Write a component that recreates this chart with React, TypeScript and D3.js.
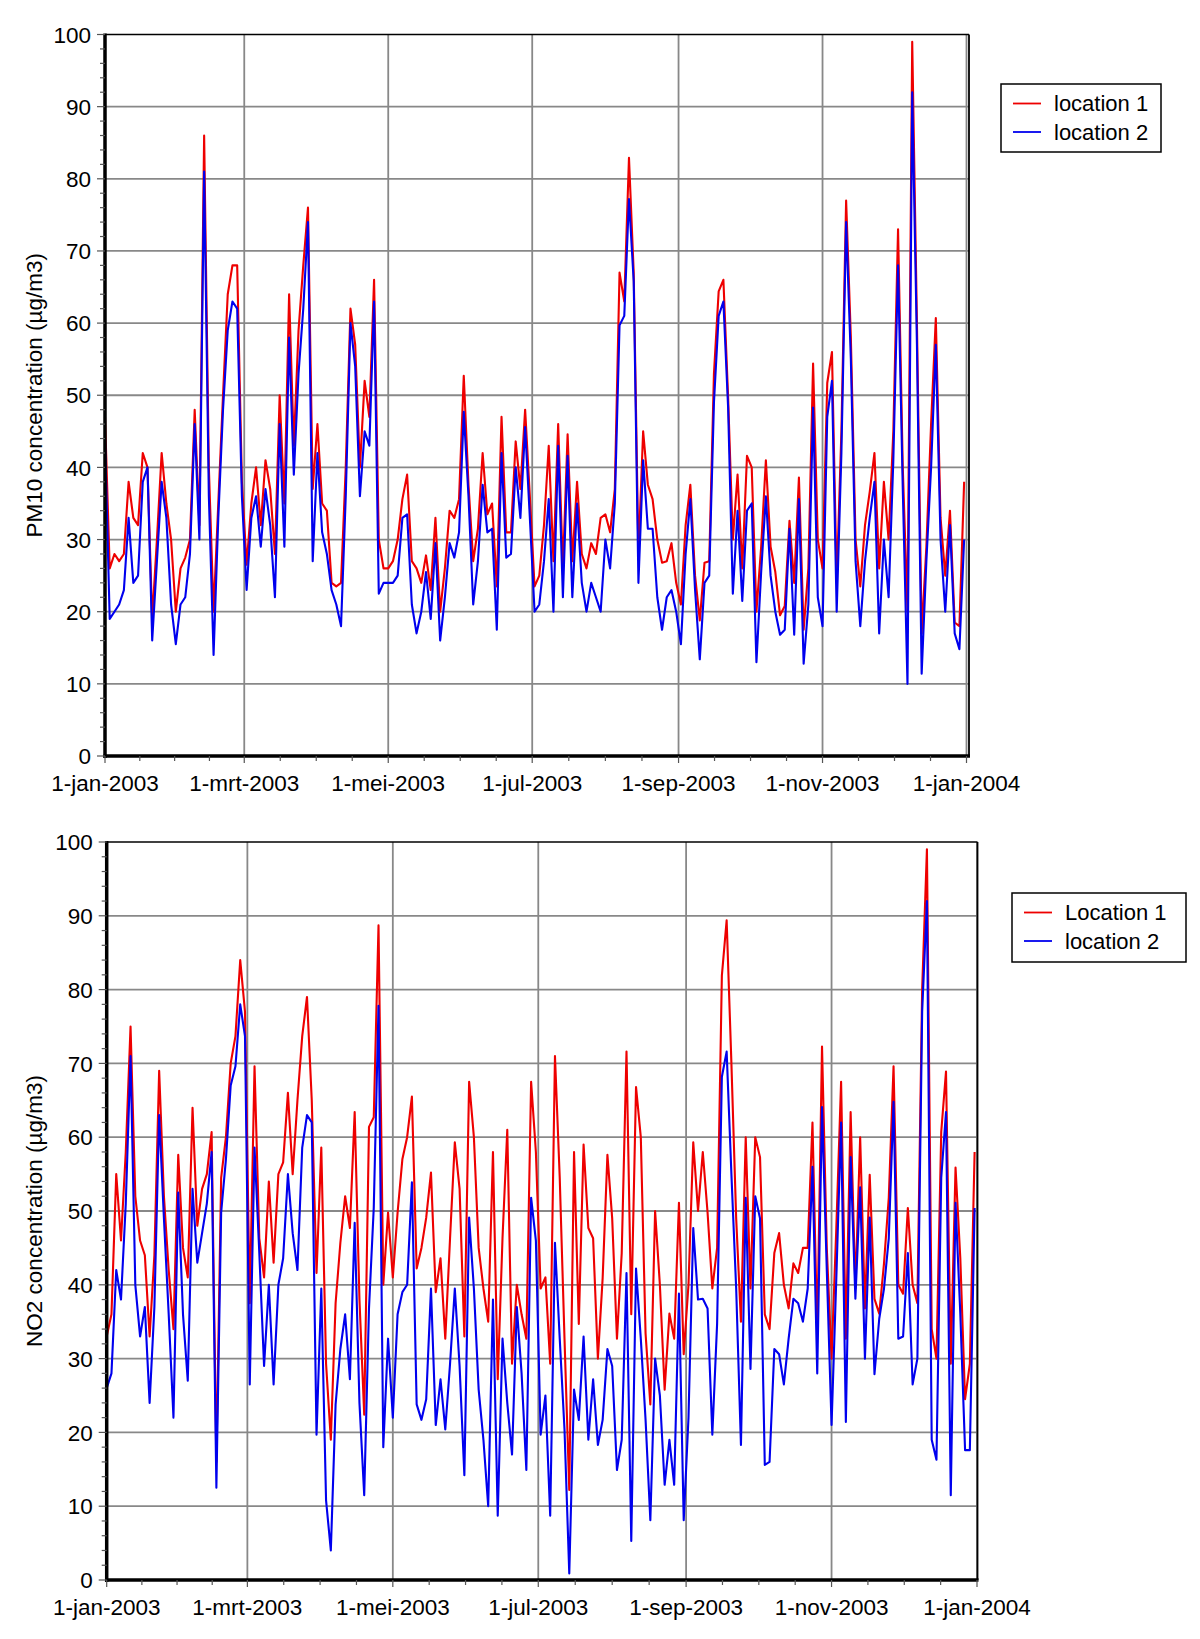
import React from 'react';
import * as d3 from 'd3';

// ---------- data (values every 2 days, starting 1-jan-2003) ----------
const START_YEAR = 2003;
const STEP_DAYS = 2;

const majorTickMonths = [0, 2, 4, 6, 8, 10, 12];
const majorTickLabels = ['1-jan-2003', '1-mrt-2003', '1-mei-2003', '1-jul-2003', '1-sep-2003', '1-nov-2003', '1-jan-2004'];
const yTickValues = [0, 10, 20, 30, 40, 50, 60, 70, 80, 90, 100];
const yMinorStep = 2;

const pm10Title = 'PM10 concentration (µg/m3)';
const no2Title = 'NO2 concentration (µg/m3)';
const pm10Legend = ['location 1', 'location 2'];
const no2Legend = ['Location 1', 'location 2'];

const pm10Loc1 = [
  47, 26, 28, 27, 28, 38, 33, 32, 42, 40,
  19, 30, 42, 35, 30, 20, 26, 27.5, 30, 48,
  32, 86, 40, 20, 35, 50, 64, 68, 68, 38,
  26.5, 35, 40, 32, 41, 37, 28, 50, 35, 64,
  43, 59, 68, 76, 37, 46, 35, 34, 24, 23.5,
  24, 40, 62, 57, 40, 52, 47, 66, 30, 26,
  26, 27, 30, 35.6, 39, 27, 26, 24, 27.8, 23,
  33, 20, 26, 34, 33, 35.6, 52.7, 37.6, 27, 31.5,
  42, 33.5, 35, 23.5, 47, 31, 31, 43.6, 37, 48,
  36, 23.5, 25, 32, 43, 27, 46, 26, 44.6, 27,
  38, 28, 26, 29.5, 28, 33, 33.5, 31, 37, 67,
  63, 82.9, 67, 28, 45, 37.6, 35.6, 30, 26.8, 27,
  29.5, 24, 21, 32, 37.6, 25, 18.8, 26.8, 27, 53,
  64.4, 66, 49.7, 30, 39, 26, 41.6, 40, 20, 29,
  41, 29, 25.5, 19.5, 20.8, 32.6, 24, 38.6, 17.5, 26,
  54.4, 30, 26, 51.7, 56, 24, 45, 77, 58, 30,
  23.5, 32, 36.6, 42, 26, 38, 30, 45, 73, 40,
  20, 99, 60, 17, 29, 46, 60.7, 33, 25, 34,
  18.5, 18, 38,
];

const pm10Loc2 = [
  44, 19, 20, 21, 23, 33, 24, 25, 38, 40,
  16, 27, 38, 33, 21, 15.5, 21, 22, 28, 46,
  30, 81, 36, 14, 33, 48, 59, 63, 62, 36,
  23, 33, 36, 29, 37, 32, 22, 46, 29, 58,
  39, 53, 62, 74, 27, 42, 31, 28, 23, 21,
  18, 36, 60, 54, 36, 45, 43, 63, 22.5, 24,
  24, 24, 25, 33, 33.5, 21, 17, 20, 25.5, 19,
  29.5, 16, 22, 29.5, 27.5, 31, 47.7, 36, 21, 27,
  37.6, 31, 31.5, 17.5, 42, 27.5, 28, 40, 33, 45.6,
  33, 20, 21, 27, 35.6, 20, 43, 22, 41.6, 22,
  35, 24, 20, 24, 22, 20, 30, 26, 35, 59.7,
  61, 77.2, 65.8, 24, 41, 31.5, 31.5, 22, 17.5, 22,
  23, 20, 15.5, 28, 35.6, 23, 13.4, 24, 25, 49,
  61, 63, 48.3, 22.5, 34, 21.5, 34, 35, 13, 25.5,
  36, 25, 20, 16.8, 17.5, 31.5, 16.8, 35.6, 12.8, 21,
  48.3, 22, 18, 47, 52, 20, 42, 74, 55, 27,
  18, 27, 33, 38, 17, 30, 22, 41, 68, 37,
  10, 92, 57, 11.4, 27, 40, 57, 30, 20, 32,
  17, 14.8, 30,
];

const no2Loc1 = [
  33, 36, 55, 46, 58, 75, 52, 46, 44, 33,
  44, 69, 52, 42, 34, 57.6, 45, 41, 64, 48,
  53, 55, 60.7, 16, 54.5, 60, 70, 73.7, 84, 77,
  37.5, 69.6, 46.3, 41, 54, 43, 55, 56.6, 66, 55,
  65, 73.7, 79, 65, 41.6, 58.6, 29.3, 19, 37.5, 45.7,
  52, 47.7, 63.4, 38, 22.4, 61.4, 62.7, 88.7, 40, 49.8,
  41, 49.8, 57, 60, 65.5, 42.2, 45, 49.1, 55.2, 39,
  43.6, 32.7, 46.3, 59.3, 53, 33, 67.5, 60, 45, 39.5,
  35, 58, 27.2, 46.3, 61, 29.3, 40, 36, 32.7, 67.5,
  58, 39.5, 41, 29.3, 71, 54.5, 32.7, 12.2, 58, 34.7,
  59, 47.7, 46.3, 30, 40.9, 57.6, 49, 32.7, 44.3, 71.6,
  36, 66.8, 60, 33.4, 23.8, 50, 40, 25.8, 36.1, 32.7,
  51.1, 30.6, 40, 59.3, 50, 58, 49.8, 39.5, 45, 81.9,
  89.4, 70, 49, 35, 60, 39.5, 60, 57.3, 36, 34,
  44.3, 47, 40, 36.8, 42.9, 41.6, 45, 45, 62, 33.4,
  72.3, 45, 30, 47.7, 67.5, 32.7, 63.4, 39.5, 60, 36.8,
  54.9, 38.1, 36.1, 42.9, 51.8, 69.6, 40, 38.8, 50.4, 40,
  37.5, 80, 99, 34, 30, 60.7, 68.9, 29.3, 55.9, 43.6,
  24.5, 29.3, 58,
];

const no2Loc2 = [
  26, 28, 42, 38, 51, 71, 40, 33, 37, 24,
  37, 63, 49, 36, 22, 52.5, 36, 27, 53, 43,
  47, 51, 58, 12.5, 49.8, 57, 67, 69.6, 78, 73.7,
  26.5, 58.6, 44.3, 29, 40, 26.5, 40, 43.6, 55, 47,
  42, 58.6, 63, 62, 19.7, 39.5, 10.8, 4, 23.8, 31.3,
  36, 27.2, 48.4, 24, 11.5, 36.8, 50.4, 77.8, 18, 32.7,
  22, 36, 39, 40, 53.9, 23.8, 21.7, 24.5, 39.5, 21,
  27.2, 20.4, 29.3, 39.5, 29, 14.2, 49.1, 39.5, 25.8, 19,
  10, 38, 8.7, 32.7, 24, 17, 37, 28, 14.9, 51.8,
  46, 19.7, 25, 8.7, 45.7, 32.7, 20.4, 0.9, 25.8, 21.7,
  33, 19, 27.2, 18.3, 21.7, 31.3, 29, 14.9, 19, 41.6,
  5.3, 42.2, 32.7, 21.7, 8.1, 30, 25, 12.9, 19, 12.9,
  38.8, 8.1, 22, 47.7, 38, 38.1, 36.8, 19.7, 34.7, 68.2,
  71.6, 55, 39.5, 18.3, 51.8, 28.6, 52, 49, 15.6, 16,
  31.3, 30.6, 26.5, 32.7, 38.1, 37.5, 35, 39.5, 56, 28,
  64.1, 42, 21, 40.9, 62, 21.4, 57.3, 38.1, 53.2, 30,
  49.1, 27.9, 35.4, 39.5, 46.3, 64.8, 32.7, 33, 44.3, 26.5,
  30, 77, 92, 19, 16.3, 54.5, 63.4, 11.5, 51.1, 36.1,
  17.6, 17.6, 50.4,
];

// ---------- drawing ----------
const FONT = '"Liberation Sans", Arial, sans-serif';
const FS = 22.5;
const RED = '#ee0000';
const BLUE = '#0000ee';
const GRID = '#888888';

type PanelProps = {
  left: number; xEnd: number; borderRight: number; top: number; bottom: number;
  loc1: number[]; loc2: number[]; title: string; legend: string[];
  legendX: number; legendY: number; legendW: number; legendH: number;
};

function Panel(p: PanelProps) {
  const x = d3.scaleTime()
    .domain([new Date(START_YEAR, 0, 1), new Date(START_YEAR + 1, 0, 1)])
    .range([p.left, p.xEnd]);
  const y = d3.scaleLinear().domain([0, 100]).range([p.bottom, p.top]);
  const dateOf = (i: number) => new Date(START_YEAR, 0, 1 + i * STEP_DAYS);
  const line = d3.line<number>()
    .x((_, i) => x(dateOf(i)))
    .y((v) => y(v));

  const majorX = majorTickMonths.map((m) => x(new Date(START_YEAR, m, 1)));
  const minorX: number[] = [];
  for (let k = 0; k < majorX.length - 1; k++) {
    for (let j = 1; j < 4; j++) minorX.push(majorX[k] + (majorX[k + 1] - majorX[k]) * j / 4);
  }
  const yMinor = d3.range(0, 100 + 0.001, yMinorStep);

  const lx = p.legendX, ly = p.legendY;
  return (
    <g>
      {/* grid */}
      {yTickValues.filter((v) => v > 0 && v < 100).map((v) => (
        <line key={'gy' + v} x1={p.left} x2={p.borderRight} y1={y(v)} y2={y(v)} stroke={GRID} strokeWidth={1.8} />
      ))}
      {majorX.slice(1).map((mx, i) => (
        <line key={'gx' + i} x1={mx} x2={mx} y1={p.top} y2={p.bottom} stroke={GRID} strokeWidth={1.8} />
      ))}
      {/* data */}
      <path d={line(p.loc1) || ''} fill="none" stroke={RED} strokeWidth={2.1} strokeLinejoin="round" />
      <path d={line(p.loc2) || ''} fill="none" stroke={BLUE} strokeWidth={2.1} strokeLinejoin="round" />
      {/* frame */}
      <line x1={p.left} x2={p.borderRight} y1={p.top} y2={p.top} stroke="#000" strokeWidth={1.5} />
      <line x1={p.borderRight} x2={p.borderRight} y1={p.top} y2={p.bottom} stroke="#000" strokeWidth={1.8} />
      <line x1={p.left} x2={p.left} y1={p.top - 1} y2={p.bottom + 2} stroke="#000" strokeWidth={3.5} />
      <line x1={p.left - 1.5} x2={p.borderRight + 1} y1={p.bottom} y2={p.bottom} stroke="#000" strokeWidth={3.5} />
      {/* y ticks */}
      {yMinor.map((v) => {
        const major = v % 10 === 0;
        return <line key={'yt' + v} x1={p.left - (major ? 8 : 5)} x2={p.left} y1={y(v)} y2={y(v)} stroke="#555" strokeWidth={1.2} />;
      })}
      {yTickValues.map((v) => (
        <text key={'yl' + v} x={p.left - 14} y={y(v)} dy="0.36em" textAnchor="end" fontFamily={FONT} fontSize={FS} fill="#000">{v}</text>
      ))}
      {/* x ticks */}
      {majorX.map((mx, i) => (
        <line key={'xt' + i} x1={mx} x2={mx} y1={p.bottom} y2={p.bottom + 7} stroke="#555" strokeWidth={1.2} />
      ))}
      {minorX.map((mx, i) => (
        <line key={'xm' + i} x1={mx} x2={mx} y1={p.bottom} y2={p.bottom + 5} stroke="#555" strokeWidth={1.2} />
      ))}
      {majorX.map((mx, i) => (
        <text key={'xl' + i} x={mx} y={p.bottom + 35} textAnchor="middle" fontFamily={FONT} fontSize={FS} fill="#000">{majorTickLabels[i]}</text>
      ))}
      {/* y title */}
      <text transform={`translate(34.5,${(p.top + p.bottom) / 2}) rotate(-90)`} textAnchor="middle" dominantBaseline="central"
        fontFamily={FONT} fontSize={FS} fill="#000">{p.title}</text>
      {/* legend */}
      <rect x={lx} y={ly} width={p.legendW} height={p.legendH} fill="#fff" stroke="#000" strokeWidth={1.5} />
      {[RED, BLUE].map((c, i) => (
        <g key={'lg' + i}>
          <line x1={lx + 12} x2={lx + 40} y1={ly + 19.5 + i * 28.5} y2={ly + 19.5 + i * 28.5} stroke={c} strokeWidth={1.8} />
          <text x={lx + 53} y={ly + 19.5 + i * 28.5} dy="0.36em" fontFamily={FONT} fontSize={22} fill="#000">{p.legend[i]}</text>
        </g>
      ))}
    </g>
  );
}

export default function App() {
  return (
    <div style={{ position: 'absolute', left: 0, top: 0 }}>
      <svg width={1200} height={1639} viewBox="0 0 1200 1639" style={{ display: 'block', background: '#fff' }}>
        <rect x={0} y={0} width={1200} height={1639} fill="#fff" />
        <Panel left={105} xEnd={966.5} borderRight={969} top={34.5} bottom={756}
          loc1={pm10Loc1} loc2={pm10Loc2} title={pm10Title} legend={pm10Legend}
          legendX={1001} legendY={84} legendW={160} legendH={68} />
        <Panel left={106.7} xEnd={977} borderRight={977.5} top={842} bottom={1580}
          loc1={no2Loc1} loc2={no2Loc2} title={no2Title} legend={no2Legend}
          legendX={1012} legendY={893} legendW={174} legendH={69} />
      </svg>
    </div>
  );
}
